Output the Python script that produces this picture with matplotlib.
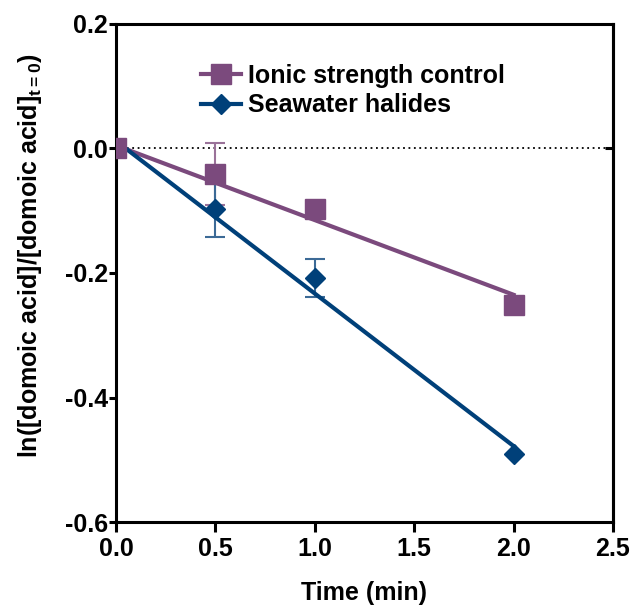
import matplotlib
matplotlib.use("Agg")
import matplotlib.pyplot as plt
import numpy as np

plt.rcParams["font.family"] = ["Liberation Sans", "DejaVu Sans"]
plt.rcParams["font.weight"] = "bold"
plt.rcParams["mathtext.fontset"] = "custom"
plt.rcParams["mathtext.rm"] = "Liberation Sans:bold"
plt.rcParams["mathtext.it"] = "Liberation Sans:bold"
plt.rcParams["mathtext.bf"] = "Liberation Sans:bold"

time_min = [0.0, 0.5, 1.0, 2.0]

ionic_y = [0.0, -0.041, -0.097, -0.251]
ionic_err = [0.0, 0.05, 0.0, 0.0]
ionic_fit_x = [0.0, 2.0]
ionic_fit_y = [0.005, -0.235]

sea_y = [0.0, -0.097, -0.208, -0.491]
sea_err = [0.0, 0.045, 0.03, 0.0]
sea_fit_x = [0.0, 2.0]
sea_fit_y = [0.012, -0.478]

purple = "#7B4A7D"
blue = "#004079"

fig = plt.figure(figsize=(6.36, 6.07), dpi=100)
ax = fig.add_axes([0.1824, 0.14, 0.7814, 0.8205])

ax.axhline(0, color="black", linestyle=(0, (1, 2)), linewidth=1.3, zorder=1)


def draw_err(x, y, err, color):
    x, y, err = np.asarray(x), np.asarray(y), np.asarray(err)
    m = err > 0
    ax.errorbar(x[m], y[m], yerr=err[m], fmt="none", ecolor=color,
                elinewidth=1.5, capsize=7.5, capthick=1.5, zorder=2)


draw_err(time_min, ionic_y, ionic_err, "#9A7299")
draw_err(time_min, sea_y, sea_err, "#3C6A96")

ax.plot(ionic_fit_x, ionic_fit_y, color=purple, linewidth=3, zorder=3)
ax.plot(sea_fit_x, sea_fit_y, color=blue, linewidth=3, zorder=3)

ax.plot(time_min, sea_y, linestyle="none", marker="D", markersize=10,
        color=blue, zorder=4)
ax.plot(time_min, ionic_y, linestyle="none", marker="s", markersize=14,
        color=purple, zorder=5)

# legend proxies
ax.plot([], [], color=purple, linewidth=3, marker="s", markersize=14,
        label="Ionic strength control")
ax.plot([], [], color=blue, linewidth=3, marker="D", markersize=10,
        label="Seawater halides")
leg = ax.legend(loc="upper left", bbox_to_anchor=(0.15, 0.94), frameon=False,
                fontsize=18, handlelength=1.6, handletextpad=0.3,
                labelspacing=0.22, borderaxespad=0)
for t in leg.get_texts():
    t.set_fontweight("bold")

ax.set_xlim(0, 2.5)
ax.set_ylim(-0.6, 0.2)
ax.set_xticks([0.0, 0.5, 1.0, 1.5, 2.0, 2.5])
ax.set_yticks([0.2, 0.0, -0.2, -0.4, -0.6])
ax.set_xticklabels(["0.0", "0.5", "1.0", "1.5", "2.0", "2.5"])
ax.set_yticklabels(["0.2", "0.0", "-0.2", "-0.4", "-0.6"])
ax.tick_params(axis="both", labelsize=18, width=2.2, direction="out")
ax.tick_params(axis="x", length=7, pad=4)
ax.tick_params(axis="y", length=5, pad=1)
for lab in ax.get_xticklabels() + ax.get_yticklabels():
    lab.set_fontweight("bold")
for sp in ax.spines.values():
    sp.set_linewidth(2.2)

sec = ax.secondary_yaxis("right")
sec.set_yticks([0.0])
sec.set_yticklabels([""])
sec.tick_params(direction="in", length=6, width=2.2)
sec.spines["right"].set_linewidth(2.2)

ax.set_xlabel("Time (min)", fontsize=18, fontweight="bold", labelpad=14)
ax.set_ylabel("ln([domoic acid]/[domoic acid]$_{{t}{=}{0}}$)", fontsize=18,
              fontweight="bold")
ax.yaxis.set_label_coords(-0.145, 0.535)

fig.savefig("out.png", dpi=100)
plt.close(fig)
